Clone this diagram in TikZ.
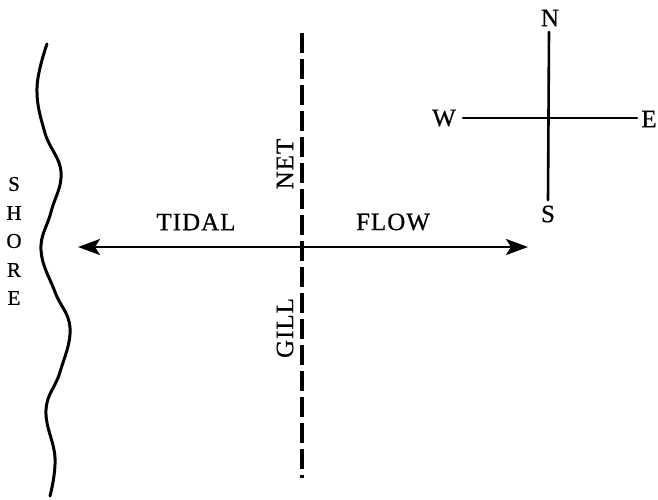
\documentclass[tikz,border=0pt]{standalone}
\usepackage{fontspec}
\setmainfont{Liberation Serif}
\usetikzlibrary{arrows.meta}
\tikzset{
  lbl/.style={font=\fontsize{25}{27}\selectfont\addfontfeature{LetterSpace=4,FakeBold=0.6}, inner sep=0pt},
  shorelbl/.style={font=\fontsize{21}{23}\selectfont\addfontfeature{FakeBold=0.6}, inner sep=0pt},
  thick line/.style={line width=2.6pt, line cap=round},
  head/.tip={Stealth[length=22pt,width=16pt,inset=5pt]},
}
\begin{document}
\begin{tikzpicture}[x=1pt,y=-1pt]
\useasboundingbox (0,0) rectangle (658,499);
% shore
\draw[line width=3pt, line cap=round] plot[smooth, tension=0.7] coordinates {(47,44) (37,88) (45,133) (61,172) (51,212) (41,250) (55,292) (70,328) (60,372) (46,410) (55,458) (50,496)};
\foreach \ch/\yy in {S/184,H/213,O/241,R/270,E/298}
  \node[shorelbl] at (14,\yy) {\ch};
% net (dashed)
\coordinate (nt) at (302,33);
\coordinate (nb) at (302,478);
\draw[line width=3.4pt, dash pattern=on 20pt off 6pt] (nt) -- (nb);
\node[lbl, rotate=90] (net) at (285,164) {NET};
\node[lbl, rotate=90] (gill) at (285,328) {GILL};
% tidal flow arrow
\coordinate (al) at (78,247);
\coordinate (ar) at (528,247);
\draw[line width=2.4pt, {head}-{head}] (al) -- (ar);
\node[lbl] (tidal) at (196,222) {TIDAL};
\node[lbl] (flow) at (393,222) {FLOW};
% compass
\node[lbl] (N) at (550,18) {N};
\node[lbl] (S) at (548,214) {S};
\node[lbl] (W) at (444,118) {W};
\node[lbl] (E) at (649,119) {E};
\coordinate (ct) at (549,32);
\coordinate (cb) at (548,200);
\coordinate (cl) at (463,118);
\coordinate (cr) at (637,118);
\draw[thick line] (ct) -- (cb);
\draw[thick line] (cl) -- (cr);
\end{tikzpicture}
\end{document}
